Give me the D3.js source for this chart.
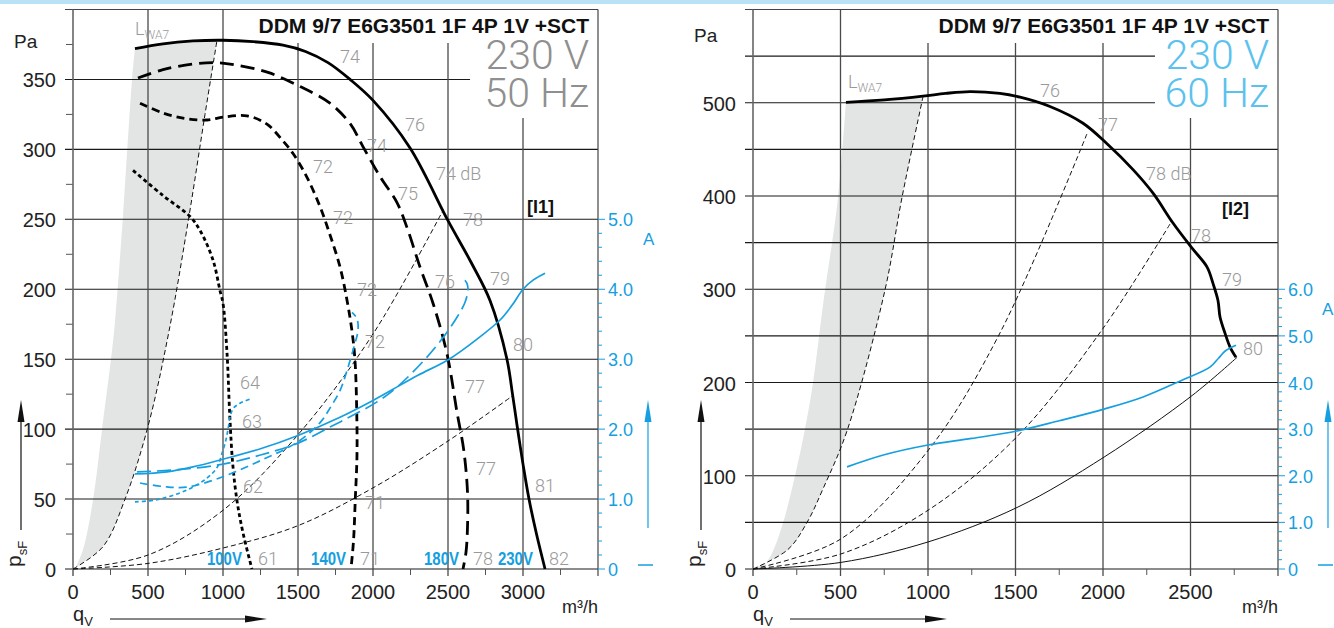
<!DOCTYPE html>
<html>
<head>
<meta charset="utf-8">
<script src="https://cdn.jsdelivr.net/npm/d3@7"></script>
<style>
body { margin: 0; background: #fff; }
svg text { font-family: "Liberation Sans", Arial, sans-serif; }
.lt { font-family: Roboto, "Liberation Sans", sans-serif; font-weight: 300; }
</style>
</head>
<body>
<svg id="chart" width="1334" height="628"></svg>
<script>
// ---------- 50 Hz panel data (q in m3/h, p in Pa, current in A) ----------
var qTicks50 = [0, 500, 1000, 1500, 2000, 2500, 3000];
var pTicks50 = [0, 50, 100, 150, 200, 250, 300, 350];
var aTicks50 = [0, 1, 2, 3, 4, 5];

var p230_50 = [[413,372],[600,375.5],[800,377.5],[1000,378],[1200,377],[1400,374.5],[1550,370],[1700,362],[1847,350],[2000,335],[2247,301],[2500,249],[2650,220],[2780,192],[2893,150],[2930,125],[2960,103],[3000,75],[3040,50],[3090,25],[3147,0]];
var p180_50 = [[433,351],[600,357],[800,361],[950,362],[1100,360],[1300,355],[1513,345],[1713,333],[1850,318],[1933,302],[2050,280],[2160,262],[2227,244],[2313,216],[2400,190],[2493,154],[2560,112],[2605,85],[2630,55],[2630,30],[2620,12],[2600,0]];
var p140_50 = [[447,333],[600,326],[750,322],[893,321],[1000,323],[1160,324],[1293,318],[1400,306],[1467,297],[1560,280],[1647,259],[1713,239],[1780,216],[1827,192],[1860,170],[1880,149],[1892,110],[1893,80],[1882,50],[1870,20],[1853,0]];
var p100_50 = [[400,285],[600,267],[780,252],[847,242],[933,221],[980,199],[1000,190],[1027,154],[1045,110],[1065,75],[1093,49],[1133,26],[1193,0]];

var i230_50 = [[413,1.36],[627,1.39],[800,1.46],[1000,1.57],[1250,1.72],[1500,1.91],[1780,2.17],[2000,2.41],[2133,2.57],[2300,2.77],[2507,3.0],[2713,3.32],[2847,3.56],[2927,3.77],[3000,4.0],[3067,4.13],[3147,4.23]];
var i180_50 = [[427,1.39],[700,1.42],[1000,1.5],[1250,1.63],[1500,1.8],[1713,2.03],[1850,2.18],[2027,2.39],[2160,2.6],[2360,3.03],[2467,3.31],[2560,3.6],[2613,3.81],[2633,3.99],[2627,4.08],[2613,4.13]];
var i140_50 = [[447,1.23],[600,1.18],[760,1.17],[1000,1.32],[1250,1.55],[1500,1.82],[1650,2.1],[1713,2.3],[1780,2.55],[1827,2.84],[1880,3.23],[1900,3.41],[1893,3.58],[1860,3.67]];
var i100_50 = [[413,0.96],[560,0.99],[760,1.13],[893,1.3],[960,1.45],[993,1.65],[1020,1.85],[1033,1.99],[1050,2.2],[1070,2.3],[1113,2.37],[1193,2.44]];

var sysA_50 = [[0,0],[200,16],[347,50],[500,102],[640,170],[773,252],[880,325],[960,378]];
var sysB_50 = [[0,0],[500,10],[1000,42],[1500,96],[2000,168],[2470,257]];
var sysC_50 = [[0,0],[500,4],[1000,15],[1500,31],[2000,58],[2507,92],[2933,124]];
var band_50 = [[13,0],[67,14],[133,49],[193,99],[260,156],[280,177],[333,252],[393,349],[413,372]];

var dbLab50 = [["74",1780,362],["76",2213,313],["74",1960,298],["74 dB",2420,278],["75",2167,264],["78",2600,245],
  ["72",1600,283],["72",1733,247],["72",1893,195],["76",2413,201],["79",2780,203],["72",1947,158],["80",2933,156],
  ["77",2613,126],["77",2687,67],["81",3080,55],["71",1947,43],["64",1113,129],["63",1127,101],["62",1133,54],
  ["61",1233,3],["71",1913,3],["78",2667,3],["82",3173,3]];
var voltLab50 = [["100V",893],["140V",1587],["180V",2340],["230V",2833]];

// ---------- 60 Hz panel data ----------
var qTicks60 = [0, 500, 1000, 1500, 2000, 2500];
var pTicks60 = [0, 100, 200, 300, 400, 500];
var aTicks60 = [0, 1, 2, 3, 4, 5, 6];

var p230_60 = [[531,500.5],[750,503],[971,507],[1100,510],[1240,512],[1411,510],[1526,506],[1697,496],[1886,478],[2023,456],[2173,428],[2286,403],[2400,371],[2509,344],[2594,324],[2629,306],[2657,288],[2669,270],[2697,253],[2726,238],[2760,227]];
var i230_60 = [[537,2.19],[750,2.45],[1000,2.66],[1250,2.8],[1509,2.96],[1750,3.18],[2006,3.43],[2229,3.69],[2451,4.05],[2611,4.33],[2660,4.52],[2700,4.68],[2760,4.8]];

var sysA_60 = [[0,0],[200,21],[309,50],[400,86],[537,148],[754,299],[851,398],[971,506]];
var sysB_60 = [[0,0],[500,32],[1000,127],[1411,253],[1909,467]];
var sysC_60 = [[0,0],[500,16],[1000,63],[1509,142],[2000,258],[2383,370]];
var sysD_60 = [[0,0],[500,7],[1000,29],[1509,66],[2006,120],[2509,186],[2766,227]];
var band_60 = [[51,0],[109,17],[171,49],[240,100],[297,150],[343,200],[405,290],[486,398],[531,500.5]];

var dbLab60 = [["76",1640,506],["77",1971,470],["78 dB",2246,417],["78",2503,351],["79",2680,303],["80",2800,229]];

var BLUE = "#159fe0";

var svg = d3.select("#chart");
svg.append("rect").attr("x",0).attr("y",0).attr("width",1334).attr("height",4).attr("fill","#b9e2f6");

function drawPanel(c){
  var x = d3.scaleLinear().domain([0,c.qMax]).range([c.x0,c.x1]);
  var y = d3.scaleLinear().domain([0,c.pMax]).range([569,9.5]);
  var yA = d3.scaleLinear().domain([0,c.pMax/50]).range([569,9.5]);
  var g = svg.append("g");
  var cr = d3.curveCatmullRom.alpha(0.5);
  var lineP = d3.line().x(function(d){ return x(d[0]); }).y(function(d){ return y(d[1]); }).curve(cr);
  var lineA = d3.line().x(function(d){ return x(d[0]); }).y(function(d){ return yA(d[1]); }).curve(cr);

  // grey LWA band
  var edge = c.band, sA = c.sys[0];
  var qa = edge[edge.length-1][0], qb = sA[sA.length-1][0];
  var topPts = [edge[edge.length-1]].concat(c.main.filter(function(d){ return d[0] > qa && d[0] < qb; }), [sA[sA.length-1]]);
  var bandPath = lineP(edge) + lineP(topPts).replace(/^M/,"L") + lineP(sA.slice().reverse()).replace(/^M/,"L") + "Z";
  g.append("path").attr("d", bandPath).attr("fill","#e3e4e4");

  // horizontal grid
  g.selectAll(".hg").data(c.pGrid).enter().append("line")
    .attr("x1", c.x0 - 8)
    .attr("x2", function(d){ return c.hEnd[d] !== undefined ? x(c.hEnd[d]) : c.x1; })
    .attr("y1", function(d){ return y(d); }).attr("y2", function(d){ return y(d); })
    .attr("stroke","#1a1a1a").attr("stroke-width",1.1);
  // minor y ticks
  g.selectAll(".my").data(c.pMinor).enter().append("line")
    .attr("x1", c.x0 - 7).attr("x2", c.x0)
    .attr("y1", function(d){ return y(d); }).attr("y2", function(d){ return y(d); })
    .attr("stroke","#555").attr("stroke-width",1);
  // vertical grid
  g.selectAll(".vg").data(c.qGrid).enter().append("line")
    .attr("x1", function(d){ return x(d); }).attr("x2", function(d){ return x(d); })
    .attr("y1", function(d){ return c.vTop[d] !== undefined ? c.vTop[d] : 9.5; })
    .attr("y2", 576)
    .attr("stroke","#4a4a4a").attr("stroke-width",1.3);
  g.selectAll(".mx").data(c.qMinor).enter().append("line")
    .attr("x1", function(d){ return x(d); }).attr("x2", function(d){ return x(d); })
    .attr("y1", 569).attr("y2", 575)
    .attr("stroke","#555").attr("stroke-width",1);

  // frame
  g.append("line").attr("x1",c.x0-8).attr("x2",c.x1).attr("y1",9.5).attr("y2",9.5).attr("stroke","#444").attr("stroke-width",1.2);
  g.append("line").attr("x1",c.x0).attr("x2",c.x0).attr("y1",9.5).attr("y2",576).attr("stroke","#666").attr("stroke-width",1.6);
  g.append("line").attr("x1",c.x1).attr("x2",c.x1).attr("y1",9.5).attr("y2",576).attr("stroke","#444").attr("stroke-width",1.2);

  // current axis ticks (right)
  var aMinor = d3.range(0, c.aMax + 0.01, 0.2);
  g.selectAll(".at").data(aMinor).enter().append("line")
    .attr("x1", c.x1).attr("x2", function(d){ return Math.abs(d - Math.round(d)) < 0.01 ? c.x1 + 7 : c.x1 + 4; })
    .attr("y1", function(d){ return yA(d); }).attr("y2", function(d){ return yA(d); })
    .attr("stroke", BLUE).attr("stroke-width",1);
  g.selectAll(".al").data(c.aTicks).enter().append("text")
    .attr("x", c.x1 + 10).attr("y", function(d){ return yA(d) + 7; })
    .attr("fill", BLUE).attr("font-size", 18)
    .text(function(d){ return d === 0 ? "0" : d.toFixed(1); });
  g.append("text").attr("x", c.aUnitX).attr("y", yA(c.aMax) + 26).attr("fill",BLUE).attr("font-size",17).text("A");

  // axis labels
  g.selectAll(".yl").data(c.pTicks).enter().append("text")
    .attr("x", c.x0 - 17).attr("y", function(d){ return y(d) + 8; })
    .attr("text-anchor","end").attr("font-size",20).attr("fill","#222")
    .text(function(d){ return d; });
  g.selectAll(".xl").data(c.qTicks).enter().append("text")
    .attr("x", function(d){ return x(d); }).attr("y", 599)
    .attr("text-anchor","middle").attr("font-size",20).attr("fill","#222")
    .text(function(d){ return d; });
  g.append("text").attr("x", c.x0 - 59).attr("y", c.paY).attr("font-size",19).attr("fill","#222").text("Pa");
  g.append("text").attr("x", c.x1).attr("y", 613).attr("text-anchor","end").attr("font-size",18).attr("fill","#222").text("m³/h");

  // q_V label and arrow
  var qv = g.append("text").attr("x", c.x0).attr("y", 621).attr("font-size",20).attr("fill","#222");
  qv.append("tspan").text("q");
  qv.append("tspan").attr("font-size",13).attr("dy",5).text("V");
  g.append("line").attr("x1", c.x0 + 37).attr("x2", c.x0 + 175).attr("y1",619).attr("y2",619).attr("stroke","#111").attr("stroke-width",1.2);
  g.append("path").attr("d","M"+(c.x0+194)+",619 L"+(c.x0+172)+",615.5 L"+(c.x0+172)+",622.5 Z").attr("fill","#111");

  // p_sF label and arrow
  var ps = g.append("text").attr("transform","translate("+(c.x0-52)+",567) rotate(-90)").attr("font-size",21).attr("fill","#222");
  ps.append("tspan").text("p");
  ps.append("tspan").attr("font-size",13).attr("dy",6).text("sF");
  g.append("line").attr("x1", c.x0-52).attr("x2", c.x0-52).attr("y1",530).attr("y2",415).attr("stroke","#111").attr("stroke-width",1.2);
  g.append("path").attr("d","M"+(c.x0-52)+",400 L"+(c.x0-55.5)+",422 L"+(c.x0-48.5)+",422 Z").attr("fill","#111");

  // blue arrow and dash on the current side
  g.append("line").attr("x1", c.aArrowX).attr("x2", c.aArrowX).attr("y1",528).attr("y2",415).attr("stroke",BLUE).attr("stroke-width",1.2);
  g.append("path").attr("d","M"+c.aArrowX+",400 L"+(c.aArrowX-3.5)+",422 L"+(c.aArrowX+3.5)+",422 Z").attr("fill",BLUE);
  g.append("line").attr("x1", c.aArrowX-10).attr("x2", c.aArrowX+5).attr("y1",565).attr("y2",565).attr("stroke",BLUE).attr("stroke-width",1.5);

  // system curves
  c.sys.forEach(function(s, i){
    g.append("path").attr("d", lineP(s)).attr("fill","none").attr("stroke","#111")
      .attr("stroke-width",1).attr("stroke-dasharray", (c.sysSolid && i === c.sys.length-1) ? null : "5,3");
  });

  // fan curves
  c.curves.forEach(function(k){
    g.append("path").attr("d", lineP(k.d)).attr("fill","none").attr("stroke","#000")
      .attr("stroke-width",2.8).attr("stroke-dasharray", k.dash);
  });
  c.currents.forEach(function(k){
    g.append("path").attr("d", lineA(k.d)).attr("fill","none").attr("stroke",BLUE)
      .attr("stroke-width",1.7).attr("stroke-dasharray", k.dash);
  });

  // dB labels
  g.selectAll(".db").data(c.dbLab).enter().append("text").attr("class","lt")
    .attr("x", function(d){ return x(d[1]); }).attr("y", function(d){ return y(d[2]); })
    .attr("font-size",18).attr("fill","#999").text(function(d){ return d[0]; });
  if (c.voltLab) {
    g.selectAll(".vl").data(c.voltLab).enter().append("text")
      .attr("x", function(d){ return x(d[1]); }).attr("y", 565)
      .attr("font-size",19).attr("font-weight","bold").attr("fill",BLUE)
      .attr("textLength",35).attr("lengthAdjust","spacingAndGlyphs")
      .text(function(d){ return d[0]; });
  }
  var lw = g.append("text").attr("class","lt").attr("x", x(c.lwa[0])).attr("y", y(c.lwa[1])).attr("font-size",18).attr("fill","#999");
  lw.append("tspan").text("L");
  lw.append("tspan").attr("font-size",12).attr("dy",4).text("WA7");

  // titles
  g.append("text").attr("x", c.x1 - 9).attr("y", 33).attr("text-anchor","end").attr("font-size",21)
    .attr("font-weight","bold").attr("fill","#111").text("DDM 9/7 E6G3501 1F 4P 1V +SCT");
  var big = g.append("text").attr("class","lt").attr("text-anchor","end").attr("font-size",41).attr("fill", c.bigColor);
  big.append("tspan").attr("x", c.x1 - 9).attr("y", 69).text("230 V");
  big.append("tspan").attr("x", c.x1 - 9).attr("y", 107).text(c.hz);
  g.append("text").attr("x", c.tagX).attr("y", c.tagY).attr("font-size",18).attr("font-weight","bold").attr("fill","#111").text(c.tag);
}

drawPanel({
  x0: 73, x1: 598, qMax: 3500, pMax: 400, aMax: 5,
  qTicks: qTicks50, pTicks: pTicks50, aTicks: aTicks50,
  pGrid: [0,50,100,150,200,250,300,350], hEnd: {350: 2647},
  pMinor: d3.range(25, 400, 50),
  qGrid: [500,1000,1500,2000,2500,3000], vTop: {1500: 43, 2000: 43, 2500: 43, 3000: 118},
  qMinor: d3.range(250, 3500, 500),
  main: p230_50, band: band_50, sys: [sysA_50, sysB_50, sysC_50],
  curves: [{d:p230_50, dash:null},{d:p180_50, dash:"14,7"},{d:p140_50, dash:"8,5"},{d:p100_50, dash:"4,3"}],
  currents: [{d:i230_50, dash:null},{d:i180_50, dash:"14,6"},{d:i140_50, dash:"8,5"},{d:i100_50, dash:"4,3"}],
  dbLab: dbLab50, voltLab: voltLab50, lwa: [413, 382],
  aUnitX: 643, aArrowX: 648, paY: 48,
  bigColor: "#8f8f8f", hz: "50 Hz", tag: "[I1]", tagX: 527, tagY: 213
});

drawPanel({
  x0: 753, x1: 1278, qMax: 3000, pMax: 600, aMax: 6,
  qTicks: qTicks60, pTicks: pTicks60, aTicks: aTicks60,
  pGrid: [0,50,100,150,200,250,300,350,400,450,500,550], hEnd: {500: 2297, 550: 2297},
  pMinor: [],
  qGrid: [500,1000,1500,2000,2500], vTop: {1000: 43, 1500: 43, 2000: 43, 2500: 118},
  qMinor: d3.range(250, 3000, 500),
  main: p230_60, band: band_60, sys: [sysA_60, sysB_60, sysC_60, sysD_60], sysSolid: true,
  curves: [{d:p230_60, dash:null}],
  currents: [{d:i230_60, dash:null}],
  dbLab: dbLab60, voltLab: null, lwa: [543, 516],
  aUnitX: 1322, aArrowX: 1328, paY: 42,
  bigColor: "#5bc2ee", hz: "60 Hz", tag: "[I2]", tagX: 1222, tagY: 215
});
</script>
</body>
</html>
